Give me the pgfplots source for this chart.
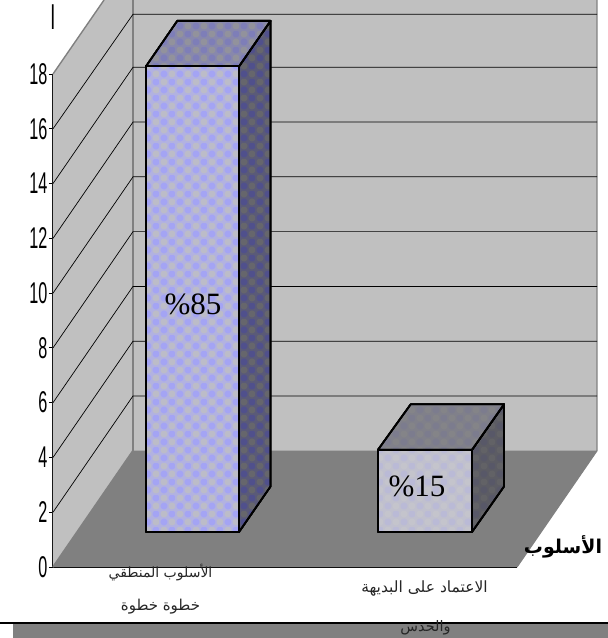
\documentclass[border=0pt]{standalone}
\usepackage{fontspec}
\usepackage{pgfplots}
\pgfplotsset{compat=1.18}
\usetikzlibrary{patterns}
\TeXXeTstate=1
\setmainfont{Liberation Sans}
\newfontfamily\serifnum{Liberation Serif}
\newfontfamily\arabicfont[Script=Arabic]{DejaVu Sans}
\definecolor{wall}{HTML}{C0C0C0}
\definecolor{floorgray}{HTML}{808080}
\definecolor{fAfront}{HTML}{B2B2E0}
\definecolor{fAtop}{HTML}{8888AC}
\definecolor{fAside}{HTML}{5A5A78}
\definecolor{fBfront}{HTML}{C0C0CE}
\definecolor{fBtop}{HTML}{80808A}
\definecolor{fBside}{HTML}{5C5C64}

% Woven dot texture of the bar faces: blue and gray cells, staggered
\newcommand{\wovenpattern}[4]{%
  \pgfdeclarepatterninherentlycolored{#1}
    {\pgfqpoint{-1pt}{-1pt}}{\pgfqpoint{17pt}{17pt}}{\pgfqpoint{16pt}{16pt}}{%
    \definecolor{tA}{HTML}{#2}\definecolor{tB}{HTML}{#3}\definecolor{tC}{HTML}{#4}%
    \pgfsetfillcolor{tA}\pgfpathrectangle{\pgfqpoint{-1pt}{-1pt}}{\pgfqpoint{18pt}{18pt}}\pgfusepath{fill}%
    \pgfsetfillcolor{tB}%
    \pgfpathcircle{\pgfqpoint{4pt}{4pt}}{3.5pt}%
    \pgfpathcircle{\pgfqpoint{12pt}{12pt}}{3.5pt}\pgfusepath{fill}%
    \pgfsetfillcolor{tC}%
    \pgfpathcircle{\pgfqpoint{12pt}{4pt}}{3.5pt}%
    \pgfpathcircle{\pgfqpoint{4pt}{12pt}}{3.5pt}\pgfusepath{fill}%
  }}
\wovenpattern{barAfront}{B2B2E0}{A4A4F4}{BCBCC8}
\wovenpattern{barAtop}{8888AC}{7E7EB8}{92929C}
\wovenpattern{barAside}{5A5A78}{50508C}{66666C}
\wovenpattern{barBfront}{C0C0CE}{BABAD6}{C4C4CC}
\wovenpattern{barBtop}{80808A}{7C7C8E}{848488}
\wovenpattern{barBside}{5C5C64}{585868}{626266}

\tikzset{
  ar/.style={font=\arabicfont\fontsize{#1}{#1}\selectfont, text=black!85, inner sep=0pt},
  face/.style 2 args={draw=black, line width=1.8pt, line join=round,
    preaction={fill=#1}, preaction={pattern=#2}},
}

\begin{document}
\begin{tikzpicture}[x=1pt,y=1pt]
% Band along the lower edge
\fill[floorgray] (-40,-71) rectangle (555,-57);
\draw[black,line width=1.8pt] (-53,-56) -- (555,-56);

\begin{axis}[
  at={(0,0)}, anchor=south west,
  scale only axis, width=464pt, height=493pt,
  xmin=53, xmax=517, ymin=0, ymax=18,
  clip=false,
  axis lines=left,
  axis line style={-, black, line width=1pt},
  xtick=\empty,
  ytick={0,2,...,18},
  tick align=outside, major tick length=4pt,
  tick style={black, line width=0.8pt},
  /pgf/number format/assume math mode=true,
  yticklabel style={font=\fontsize{30}{30}\selectfont, xscale=0.54, inner sep=3pt},
]
% Side wall, back wall and floor of the box
\addplot[fill=wall, draw=none] coordinates {(53,0) (133,4.245) (133,20.7) (104,20.7) (53,18)} -- cycle;
\addplot[fill=wall, draw=none] coordinates {(133,4.245) (597,4.245) (597,20.7) (133,20.7)} -- cycle;
\addplot[fill=floorgray, draw=none] coordinates {(53,0) (517,0) (597,4.245) (133,4.245)} -- cycle;
\addplot[floorgray, line width=1.4pt] coordinates {(53,18) (104,20.7)};
\addplot[floorgray, line width=1.8pt] coordinates {(133,20.7) (133,4.245) (53,0)};
\addplot[floorgray, line width=1.2pt] coordinates {(597,20.7) (597,4.245) (517,0)};

% Gridlines running along the side wall and across the back wall
\pgfplotsinvokeforeach{2,4,...,14}{%
  \addplot[black, line width=0.7pt] coordinates {(53,#1) (133,#1+4.245) (597,#1+4.245)};
}
\addplot[black, line width=0.7pt] coordinates {(53,16) (133,20.18) (597,20.18)};

% First bar: height 17 above a base at 1.28
\addplot[face={fAside}{barAside}]
  coordinates {(239,1.28) (270.5,2.94) (270.5,19.94) (239,18.28)} -- cycle;
\addplot[face={fAtop}{barAtop}]
  coordinates {(146,18.28) (177.3,19.94) (270.5,19.94) (239,18.28)} -- cycle;
\addplot[face={fAfront}{barAfront}]
  coordinates {(146,1.28) (239,1.28) (239,18.28) (146,18.28)} -- cycle;

% Second bar: height 3 above the same base
\addplot[face={fBside}{barBside}]
  coordinates {(472,1.28) (504,2.94) (504,5.94) (472,4.28)} -- cycle;
\addplot[face={fBtop}{barBtop}]
  coordinates {(378,4.28) (410.7,5.94) (504,5.94) (472,4.28)} -- cycle;
\addplot[face={fBfront}{barBfront}]
  coordinates {(378,1.28) (472,1.28) (472,4.28) (378,4.28)} -- cycle;

\node[font=\serifnum\fontsize{31}{31}\selectfont, inner sep=0pt] at (axis cs:193,9.6) {\%85};
\node[font=\serifnum\fontsize{31}{31}\selectfont, inner sep=0pt] at (axis cs:417,2.95) {\%15};
\end{axis}

% Axis title stub above the value axis
\node[font=\fontsize{36}{36}\selectfont, xscale=0.5, inner sep=0pt] at (0,550) {I};

% Category names
\node[ar=14] at (107.5,-6) {\beginR الأسلوب المنطقي\endR};
\node[ar=15] at (107.5,-40) {\beginR خطوة خطوة\endR};
\node[ar=15.5] at (371.5,-21) {\beginR الاعتماد على البديهة\endR};
\node[ar=14.5] at (372.5,-61) {\beginR والحدس\endR};
% Category axis title
\node[ar=19, text=black, font=\arabicfont\bfseries\fontsize{19}{19}\selectfont] at (510,20) {\beginR الأسلوب\endR};

\pgfresetboundingbox
\path[use as bounding box] (-53,-71) rectangle (555,567);
\end{tikzpicture}
\end{document}
